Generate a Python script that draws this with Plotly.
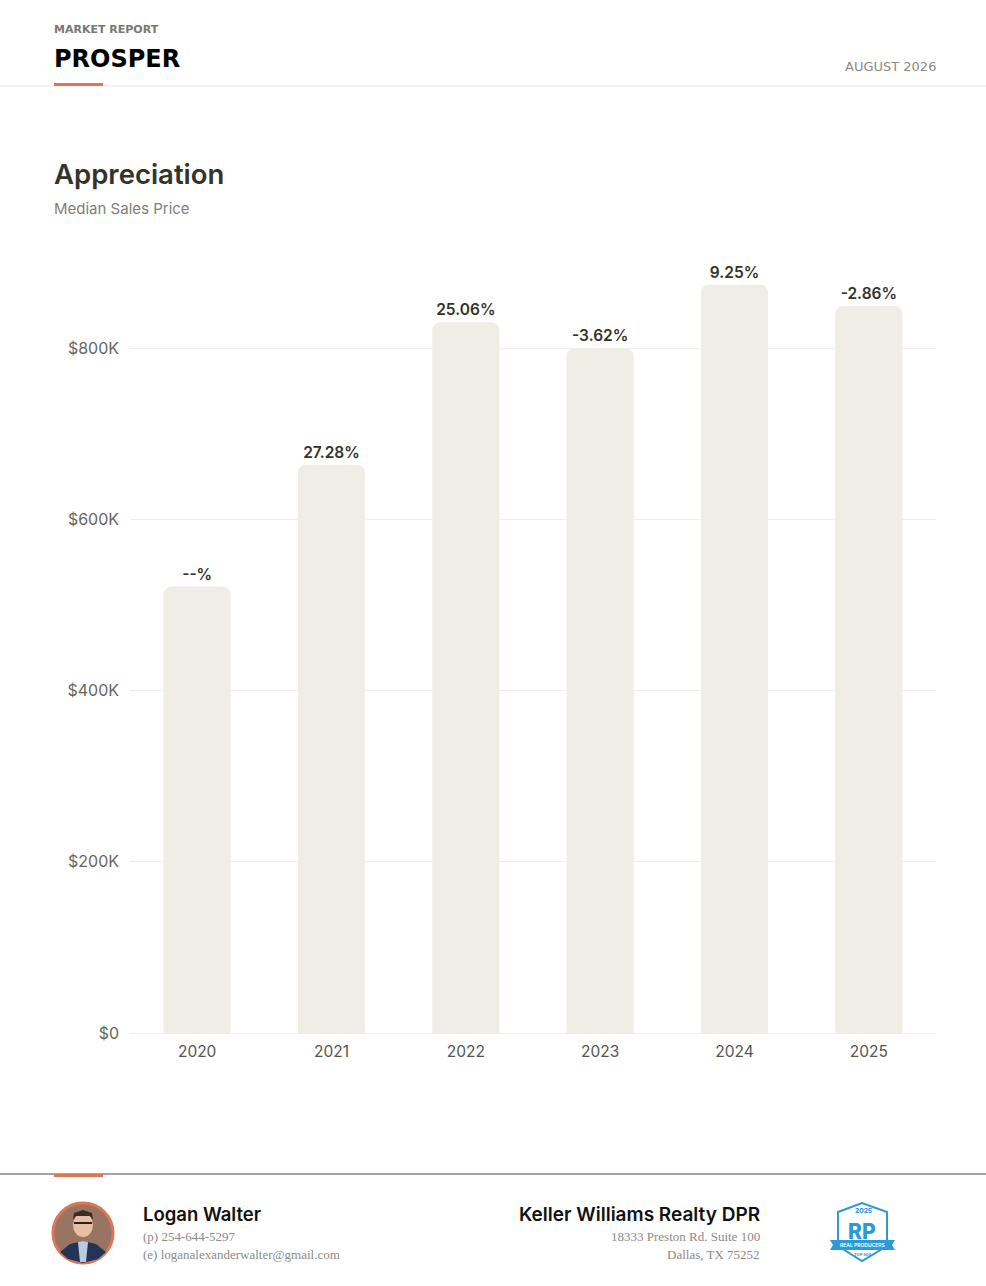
import plotly.graph_objects as go

# data
years = ["2020", "2021", "2022", "2023", "2024", "2025"]
median_price = [521400, 663700, 830000, 800000, 874000, 849000]
pct_labels = ["--%", "27.28%", "25.06%", "-3.62%", "9.25%", "-2.86%"]
y_tickvals = [0, 200000, 400000, 600000, 800000]
y_ticktext = ["$0", "$200K", "$400K", "$600K", "$800K"]

W, H = 986, 1286
L, R, T, B = 130, 50, 250, 253
PW, PH = W - L - R, H - T - B

SANS = "Inter, Lato, sans-serif"
WIDE = "DejaVu Sans, sans-serif"
SERIF = "Liberation Serif, DejaVu Serif, serif"
ORANGE = "#D97757"
BLUE = "#2A9BD8"


def px(x):
    return (x - L) / PW


def py(y):
    return (H - B - y) / PH


def label(text, x, y, size, color, weight=400, anchor="left", family=SANS):
    # annotations carry ~2px of padding, take it back out
    shift = {"left": -2, "right": 2, "center": 0}[anchor]
    return dict(text=text, x=px(x), y=py(y), xref="paper", yref="paper",
                xanchor=anchor, yanchor="middle", showarrow=False, xshift=shift,
                font=dict(family=family, size=size, color=color, weight=weight))


def rect(x0, y0, x1, y1, fill, line=None):
    return dict(type="rect", xref="paper", yref="paper",
                x0=px(x0), x1=px(x1), y0=py(y0), y1=py(y1),
                fillcolor=fill, line=dict(width=0) if line is None else line,
                layer="above")


def path(pts, fill, line_color=None, lw=0, closed=True):
    d = "M " + " L ".join(f"{px(a):.5f},{py(b):.5f}" for a, b in pts)
    if closed:
        d += " Z"
    return dict(type="path", xref="paper", yref="paper", path=d,
                fillcolor=fill, line=dict(color=line_color or fill, width=lw),
                layer="above")


def circle(cx, cy, rx, ry, fill, line_color=None, lw=0):
    return dict(type="circle", xref="paper", yref="paper",
                x0=px(cx - rx), x1=px(cx + rx), y0=py(cy + ry), y1=py(cy - ry),
                fillcolor=fill, line=dict(color=line_color or fill, width=lw),
                layer="above")


fig = go.Figure(go.Bar(
    x=years, y=median_price,
    text=pct_labels, textposition="outside", cliponaxis=False,
    textfont=dict(family=SANS, size=15.5, color="#33332B", weight=600),
    marker=dict(color="#F0EDE6", line=dict(width=0)),
    hoverinfo="skip",
))

shapes = [
    # header
    dict(type="line", xref="paper", yref="paper", x0=px(0), x1=px(W),
         y0=py(86), y1=py(86), line=dict(color="#E6E6E6", width=1)),
    rect(54, 83, 103, 86, ORANGE),
    # footer
    dict(type="line", xref="paper", yref="paper", x0=px(0), x1=px(W),
         y0=py(1174), y1=py(1174), line=dict(color="#4A4A40", width=1)),
    rect(54, 1174, 103, 1177, ORANGE),
    # avatar
    circle(83, 1233, 30, 30, "#9A7462", ORANGE, 3),
    path([(60, 1252), (70, 1244), (83, 1241), (96, 1244), (106, 1252),
          (98, 1259), (83, 1263), (68, 1259)], "#233456"),
    path([(78, 1242), (83, 1241), (88, 1242), (86, 1262), (80, 1262)], "#B8CBE0"),
    circle(83, 1225, 10, 12, "#E7BFA2"),
    path([(73, 1220), (74, 1213), (83, 1210), (92, 1213), (93, 1220),
          (90, 1216), (76, 1216)], "#3A2E28"),
    dict(type="line", xref="paper", yref="paper", x0=px(74), x1=px(92),
         y0=py(1223), y1=py(1223), line=dict(color="#222222", width=2),
         layer="above"),
    # badge
    path([(838, 1212), (862, 1203), (887, 1212), (887, 1246), (862, 1261),
          (838, 1246)], "white", BLUE, 2),
    path([(830, 1240), (895, 1240), (892, 1245), (895, 1250), (830, 1250),
          (833, 1245)], BLUE),
]

annotations = [
    label("MARKET REPORT", 54, 30, 11, "#77776F", 700, family=WIDE),
    label("PROSPER", 54, 59, 24, "#000000", 700, family=WIDE),
    label("AUGUST 2026", 936, 66, 13, "#8A8A82", 400, "right", family=WIDE),
    label("Appreciation", 54, 174, 27.5, "#33332B", 600),
    label("Median Sales Price", 54, 209, 15, "#808078"),
    label("Logan Walter", 143, 1214, 18.5, "#111111", 600),
    label("(p) 254-644-5297", 143, 1236, 13, "#8A8A8A", family=SERIF),
    label("(e) loganalexanderwalter@gmail.com", 143, 1254, 13, "#8A8A8A", family=SERIF),
    label("Keller Williams Realty DPR", 760, 1214, 19, "#111111", 600, "right"),
    label("18333 Preston Rd. Suite 100", 760, 1236, 13, "#8A8A8A", anchor="right", family=SERIF),
    label("Dallas, TX 75252", 760, 1254, 13, "#8A8A8A", anchor="right", family=SERIF),
    label("2025", 863, 1211, 6.5, BLUE, 800, "center"),
    label("RP", 862, 1231, 21, BLUE, 800, "center"),
    label("REAL PRODUCERS", 862.5, 1245, 5, "white", 600, "center"),
    label("TOP 500", 862.5, 1254, 4, BLUE, 700, "center"),
]

fig.update_layout(
    width=W, height=H, autosize=False,
    margin=dict(l=L, r=R, t=T, b=B),
    paper_bgcolor="white", plot_bgcolor="white",
    showlegend=False,
    bargap=0.5, barcornerradius=8,
    font=dict(family=SANS),
    shapes=shapes, annotations=annotations,
    xaxis=dict(
        type="category", showgrid=False, showline=False, ticks="",
        tickfont=dict(family=SANS, size=15.5, color="#555550"),
        ticklabelstandoff=7,
    ),
    yaxis=dict(
        range=[0, (H - B - T) / (1033 - 348) * 800000],
        tickvals=y_tickvals, ticktext=y_ticktext,
        showgrid=True, gridcolor="#EEEEEE", gridwidth=1,
        zeroline=True, zerolinecolor="#EEEEEE", zerolinewidth=1,
        showline=False, ticks="",
        tickfont=dict(family=SANS, size=16, color="#66665E"),
        ticklabelstandoff=10,
    ),
)

fig.write_html("out.html", config={"displayModeBar": False},
               post_script="document.body.style.margin='0';document.body.style.overflow='hidden';")
